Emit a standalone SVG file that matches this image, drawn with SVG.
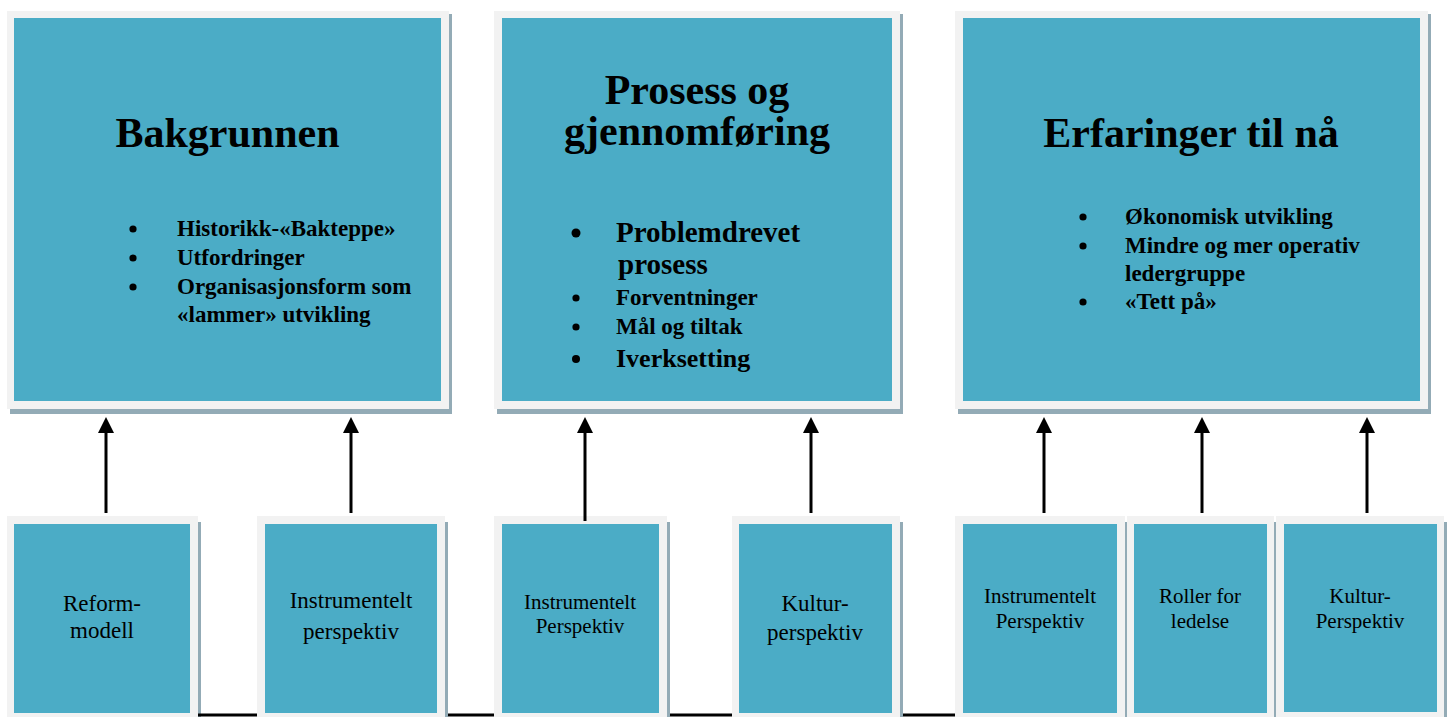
<svg xmlns="http://www.w3.org/2000/svg" width="1453" height="717" viewBox="0 0 1453 717">
<style>
.shadow{fill:#93abb6}
.frame{fill:#f2f2f2}
.inner{fill:#4bacc6}
.title{font-family:"Liberation Serif","Times New Roman",serif;font-weight:bold;font-size:42px;fill:#000;text-anchor:middle}
.item{font-family:"Liberation Serif","Times New Roman",serif;font-weight:bold;font-size:23px;fill:#000}
.dot{fill:#000}
.big{font-size:29px}
.mid{font-size:26px}
.lbl{font-family:"Liberation Serif","Times New Roman",serif;font-size:23px;fill:#000;text-anchor:middle}
.sm{font-size:21px}
.conn{stroke:#000;stroke-width:3;fill:none}
</style>
<defs>
<marker id="arr" viewBox="0 0 16 16" refX="0" refY="8" markerWidth="16" markerHeight="16" markerUnits="userSpaceOnUse" orient="auto">
<path d="M0,0 L16,8 L0,16 z" fill="#000"/>
</marker>
</defs>
<rect width="1453" height="717" fill="#fff"/>

<g id="top1">
<rect class="shadow" x="10" y="14" width="442" height="400"/>
<rect class="frame" x="7" y="11" width="442" height="398"/>
<rect class="inner" x="14" y="18" width="427" height="383"/>
<text class="title" x="227.5" y="147">Bakgrunnen</text>
<circle class="dot" cx="133" cy="229" r="3.6"/><text class="item" x="177" y="236">Historikk-«Bakteppe»</text>
<circle class="dot" cx="133" cy="258" r="3.6"/><text class="item" x="177" y="265">Utfordringer</text>
<circle class="dot" cx="133" cy="287" r="3.6"/><text class="item" x="177" y="294">Organisasjonsform som</text>
<text class="item" x="177" y="322">«lammer» utvikling</text>
</g>

<g id="top2">
<rect class="shadow" x="497" y="14" width="406" height="400"/>
<rect class="frame" x="494" y="11" width="406" height="398"/>
<rect class="inner" x="502" y="18" width="390" height="383"/>
<text class="title" x="697" y="104">Prosess og<tspan x="697" dy="41">gjennomføring</tspan></text>
<circle class="dot" cx="576" cy="233" r="4.5"/><text class="item big" x="616" y="242">Problemdrevet</text>
<text class="item big" x="618" y="274">prosess</text>
<circle class="dot" cx="576" cy="298" r="3.6"/><text class="item" x="616" y="305">Forventninger</text>
<circle class="dot" cx="576" cy="327" r="3.6"/><text class="item" x="616" y="334">Mål og tiltak</text>
<circle class="dot" cx="576" cy="359" r="4"/><text class="item mid" x="616" y="367">Iverksetting</text>
</g>

<g id="top3">
<rect class="shadow" x="958" y="14" width="473" height="400"/>
<rect class="frame" x="955" y="11" width="473" height="398"/>
<rect class="inner" x="963" y="18" width="457" height="383"/>
<text class="title" x="1191" y="147">Erfaringer til nå</text>
<circle class="dot" cx="1083" cy="217" r="3.6"/><text class="item" x="1125" y="224">Økonomisk utvikling</text>
<circle class="dot" cx="1083" cy="246" r="3.6"/><text class="item" x="1125" y="253">Mindre og mer operativ</text>
<text class="item" x="1125" y="281">ledergruppe</text>
<circle class="dot" cx="1083" cy="302" r="3.6"/><text class="item" x="1125" y="309">«Tett på»</text>
</g>

<g id="b1">
<rect class="shadow" x="198" y="522" width="3" height="195"/>
<rect class="frame" x="7" y="516" width="191" height="201"/>
<rect class="inner" x="14" y="524" width="176" height="189"/>
<text class="lbl" x="102" y="611">Reform-</text>
<text class="lbl" x="102" y="638">modell</text>
</g>

<g id="b2">
<rect class="shadow" x="445" y="522" width="3" height="195"/>
<rect class="frame" x="257" y="516" width="188" height="201"/>
<rect class="inner" x="265" y="524" width="172" height="189"/>
<text class="lbl" x="351" y="608">Instrumentelt</text>
<text class="lbl" x="351" y="639">perspektiv</text>
</g>

<g id="b3">
<rect class="shadow" x="667" y="522" width="3" height="195"/>
<rect class="frame" x="494" y="516" width="173" height="201"/>
<rect class="inner" x="502" y="524" width="157" height="189"/>
<text class="lbl sm" x="580" y="609">Instrumentelt</text>
<text class="lbl sm" x="580" y="633">Perspektiv</text>
</g>

<g id="b4">
<rect class="shadow" x="900" y="522" width="3" height="195"/>
<rect class="frame" x="732" y="516" width="168" height="201"/>
<rect class="inner" x="739" y="524" width="153" height="189"/>
<text class="lbl" x="815" y="611">Kultur-</text>
<text class="lbl" x="815" y="640">perspektiv</text>
</g>

<g id="b5">
<rect class="shadow" x="1125" y="522" width="2" height="195"/>
<rect class="frame" x="955" y="516" width="170" height="201"/>
<rect class="inner" x="963" y="524" width="154" height="189"/>
<text class="lbl sm" x="1040" y="603">Instrumentelt</text>
<text class="lbl sm" x="1040" y="628">Perspektiv</text>
</g>

<g id="b6">
<rect class="shadow" x="1274" y="522" width="3" height="195"/>
<rect class="frame" x="1127" y="516" width="147" height="201"/>
<rect class="inner" x="1134" y="524" width="133" height="189"/>
<text class="lbl sm" x="1200" y="603">Roller for</text>
<text class="lbl sm" x="1200" y="628">ledelse</text>
</g>

<g id="b7">
<rect class="shadow" x="1444" y="522" width="3" height="195"/>
<rect class="frame" x="1276" y="516" width="168" height="201"/>
<rect class="inner" x="1284" y="524" width="153" height="188"/>
<text class="lbl sm" x="1360" y="603">Kultur-</text>
<text class="lbl sm" x="1360" y="628">Perspektiv</text>
</g>

<g id="connectors">
<line class="conn" x1="106" y1="513" x2="106" y2="433" marker-end="url(#arr)"/>
<line class="conn" x1="351" y1="513" x2="351" y2="433" marker-end="url(#arr)"/>
<line class="conn" x1="585" y1="521" x2="585" y2="433" marker-end="url(#arr)"/>
<line class="conn" x1="811" y1="513" x2="811" y2="433" marker-end="url(#arr)"/>
<line class="conn" x1="1044" y1="513" x2="1044" y2="433" marker-end="url(#arr)"/>
<line class="conn" x1="1202" y1="513" x2="1202" y2="433" marker-end="url(#arr)"/>
<line class="conn" x1="1367" y1="513" x2="1367" y2="433" marker-end="url(#arr)"/>
<path class="conn" d="M198,715 H257 M448,715 H494 M670,715 H732 M903,715 H955"/>
</g>
</svg>
